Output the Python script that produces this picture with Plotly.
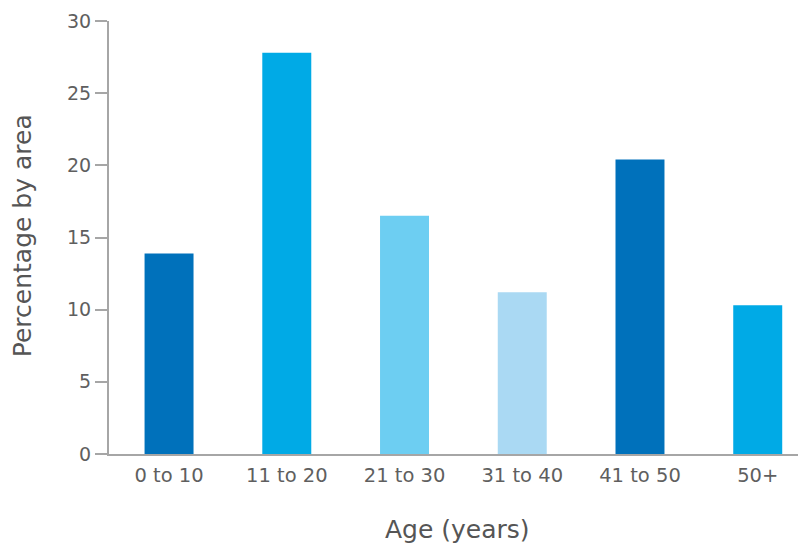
import plotly.graph_objects as go

categories = ["0 to 10", "11 to 20", "21 to 30", "31 to 40", "41 to 50", "50+"]
values = [13.9, 27.8, 16.5, 11.2, 20.4, 10.3]
colors = ["#0071BB", "#00AAE6", "#6DCEF2", "#AAD9F3", "#0071BB", "#00AAE6"]
y_ticks = [0, 5, 10, 15, 20, 25, 30]

fig = go.Figure(go.Bar(x=categories, y=values, marker_color=colors, marker_line_width=0, width=0.416))

font_family = "DejaVu Sans, sans-serif"
fig.update_layout(
    width=798, height=535,
    margin=dict(l=101, r=0, t=13, b=89),
    plot_bgcolor="white", paper_bgcolor="white",
    showlegend=False,
    font=dict(family=font_family, color="#5f5f5f", size=17),
    annotations=[
        dict(text="Percentage by area", xref="paper", yref="paper", x=-0.1248, y=0.503,
             textangle=-90, showarrow=False, xanchor="center", yanchor="middle",
             font=dict(size=25, color="#555555")),
        dict(text="Age (years)", xref="paper", yref="paper", x=0.5, y=-0.175,
             showarrow=False, xanchor="center", yanchor="middle",
             font=dict(size=25, color="#555555")),
    ],
)
fig.update_xaxes(
    type="category", range=[-0.51, 5.41], automargin=False,
    showline=True, linecolor="#a6a6a6", linewidth=2,
    ticks="outside", ticklen=3, tickcolor="rgba(0,0,0,0)",
    tickfont=dict(size=19.5, color="#5f5f5f"),
    showgrid=False, zeroline=False,
)
fig.update_yaxes(
    range=[0, 30], tickvals=y_ticks, automargin=False,
    showline=True, linecolor="#a6a6a6", linewidth=2,
    ticks="outside", ticklen=12, tickcolor="#a6a6a6", tickwidth=2,
    tickfont=dict(size=19, color="#5f5f5f"),
    showgrid=False, zeroline=False,
)
fig.write_html("out.html")
